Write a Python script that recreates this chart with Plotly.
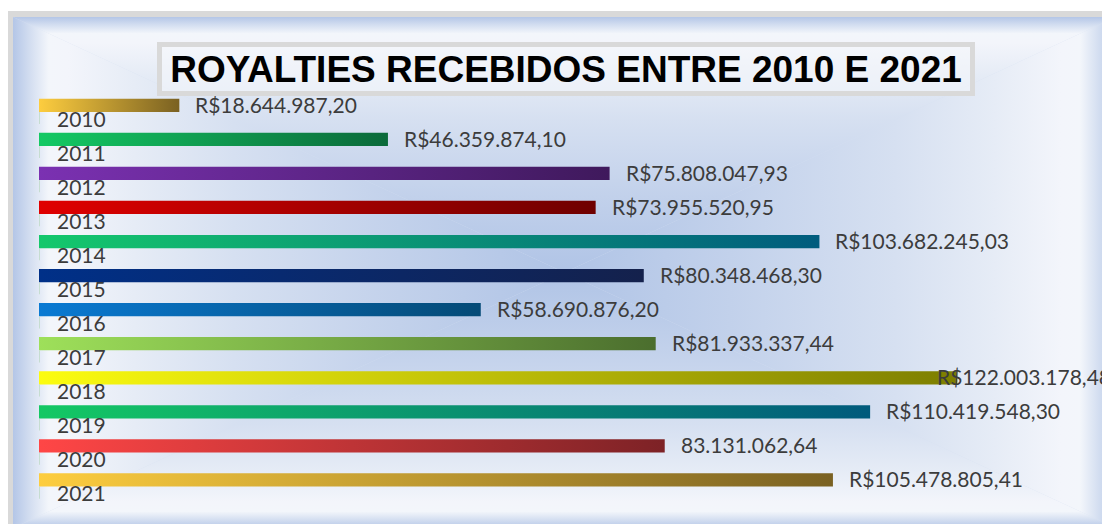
import plotly.graph_objects as go

# ---------------- data ----------------
years = ["2010", "2011", "2012", "2013", "2014", "2015",
         "2016", "2017", "2018", "2019", "2020", "2021"]
values = [18644987.20, 46359874.10, 75808047.93, 73955520.95, 103682245.03, 80348468.30,
          58690876.20, 81933337.44, 122003178.48, 110419548.30, 83131062.64, 105478805.41]
value_labels = ["R$18.644.987,20", "R$46.359.874,10", "R$75.808.047,93", "R$73.955.520,95",
                "R$103.682.245,03", "R$80.348.468,30", "R$58.690.876,20", "R$81.933.337,44",
                "R$122.003.178,48", "R$110.419.548,30", "83.131.062,64", "R$105.478.805,41"]
title_text = "ROYALTIES RECEBIDOS ENTRE 2010 E 2021"

# ---------------- styles ----------------
bar_start_colors = ["#fdcd3f", "#14c964", "#7b31b2", "#e00000", "#14c86c", "#003088",
                    "#0a7ad3", "#9ee05a", "#fcfc10", "#14c864", "#ff4646", "#fdcd3f"]
bar_end_colors = ["#7a6122", "#0b6a3a", "#3f195c", "#6f0000", "#005c7e", "#14214c",
                  "#044a76", "#4b6e2e", "#7d7e00", "#005a7c", "#7d2226", "#7a6122"]
label_font = dict(family="Lato, 'Open Sans', sans-serif", size=21, color="#3c3c3c")
label_xshift_override = {"2018": -22}

W, H = 1110, 524
OFF = 8                          # page body margin
PX_PER_UNIT = 7.527e-6           # pixels per R$
BAR_LEFT_PX = 39 - OFF
ROW0_PX, ROW_STEP_PX = 105.3 - OFF, 34.06
BAR_HALF = 0.195

fig = go.Figure()

# ---------------- background (subplot xy, pixel units, y up) ----------------
def poly(xs, ys, **kw):
    fig.add_trace(go.Scatter(x=xs, y=ys, mode="lines", fill="toself", line=dict(width=0),
                             hoverinfo="skip", showlegend=False, xaxis="x", yaxis="y", **kw))

# gray frame
poly([8 - OFF, 1130, 1130, 8 - OFF, 8 - OFF],
     [H - (11 - OFF), H - (11 - OFF), -20, -20, H - (11 - OFF)], fillcolor="#d9d9d9")
# panel gradient (rectangular path gradient from centre)
L, R, T, B = 13 - OFF, 1116 - OFF, H - (17 - OFF), H - (528 - OFF)
cx, cy = (L + R) / 2, (T + B) / 2
scale = [[0.0, "#b0c4e6"], [0.3, "#c2d1eb"], [0.6, "#d6e0f1"], [0.78, "#e6ecf6"],
         [0.9, "#f3f5fb"], [0.935, "#f3f6fb"], [0.97, "#d2ddf0"], [1.0, "#b4c6e7"]]
rev = [[1 - p, c] for p, c in reversed(scale)]
poly([L, R, R, L, L], [T, T, B, B, T], fillcolor="#d6e0f1")
poly([L, R, cx, L], [T, T, cy, T], fillgradient=dict(type="vertical", colorscale=scale))
poly([L, R, cx, L], [B, B, cy, B], fillgradient=dict(type="vertical", colorscale=rev))
poly([L, L, cx, L], [T, B, cy, T], fillgradient=dict(type="horizontal", colorscale=rev))
poly([R, R, cx, R], [T, B, cy, T], fillgradient=dict(type="horizontal", colorscale=scale))

# ---------------- bars (subplot x2y2) ----------------
for i, (yr, v) in enumerate(zip(years, values)):
    fig.add_trace(go.Scatter(
        x=[0, v, v, 0, 0], y=[i - BAR_HALF, i - BAR_HALF, i + BAR_HALF, i + BAR_HALF, i - BAR_HALF],
        mode="lines", fill="toself", line=dict(width=0), name=yr, showlegend=False,
        fillgradient=dict(type="horizontal",
                          colorscale=[[0, bar_start_colors[i]], [1, bar_end_colors[i]]]),
        xaxis="x2", yaxis="y2", hovertemplate=yr + ": " + value_labels[i] + "<extra></extra>"))

# small axis tick marks under each bar
tx, ty = [], []
for i in range(len(years)):
    tx += [0, 0, None]
    ty += [i + 0.2, i + 0.55, None]
fig.add_trace(go.Scatter(x=tx, y=ty, mode="lines", line=dict(color="#bcd8c4", width=1.5),
                         hoverinfo="skip", showlegend=False, xaxis="x2", yaxis="y2"))

# labels
for i, (yr, v, lab) in enumerate(zip(years, values, value_labels)):
    fig.add_annotation(x=0, y=i, xref="x2", yref="y2", text=yr, showarrow=False,
                       xanchor="left", yanchor="middle", xshift=16, yshift=-13, font=label_font)
    fig.add_annotation(x=v, y=i, xref="x2", yref="y2", text=lab, showarrow=False,
                       xanchor="left", yanchor="middle",
                       xshift=label_xshift_override.get(yr, 14), yshift=1, font=label_font)

# title box
fig.add_annotation(x=(566 - OFF) / W, y=1 - (69 - OFF) / H, xref="paper", yref="paper",
                   text="<b>" + title_text + "</b>",
                   showarrow=False, xanchor="center", yanchor="middle",
                   font=dict(family="Liberation Sans, Arial, sans-serif", size=37, color="#000000"),
                   bgcolor="rgba(245,247,252,0.55)", bordercolor="#d9d9d9", borderwidth=5,
                   borderpad=0, width=808, height=44)

fig.update_layout(
    width=W, height=H, margin=dict(l=0, r=0, t=0, b=0),
    paper_bgcolor="white", plot_bgcolor="rgba(0,0,0,0)",
    xaxis=dict(domain=[0, 1], range=[0, W], visible=False, fixedrange=True),
    yaxis=dict(domain=[0, 1], range=[0, H], visible=False, fixedrange=True),
    xaxis2=dict(domain=[BAR_LEFT_PX / W, 1], range=[0, (W - BAR_LEFT_PX) / PX_PER_UNIT],
                anchor="y2", visible=False, fixedrange=True),
    yaxis2=dict(domain=[0, 1], range=[(H - ROW0_PX) / ROW_STEP_PX, -ROW0_PX / ROW_STEP_PX],
                anchor="x2", visible=False, fixedrange=True),
    showlegend=False,
)

fig.write_html("out.html")
